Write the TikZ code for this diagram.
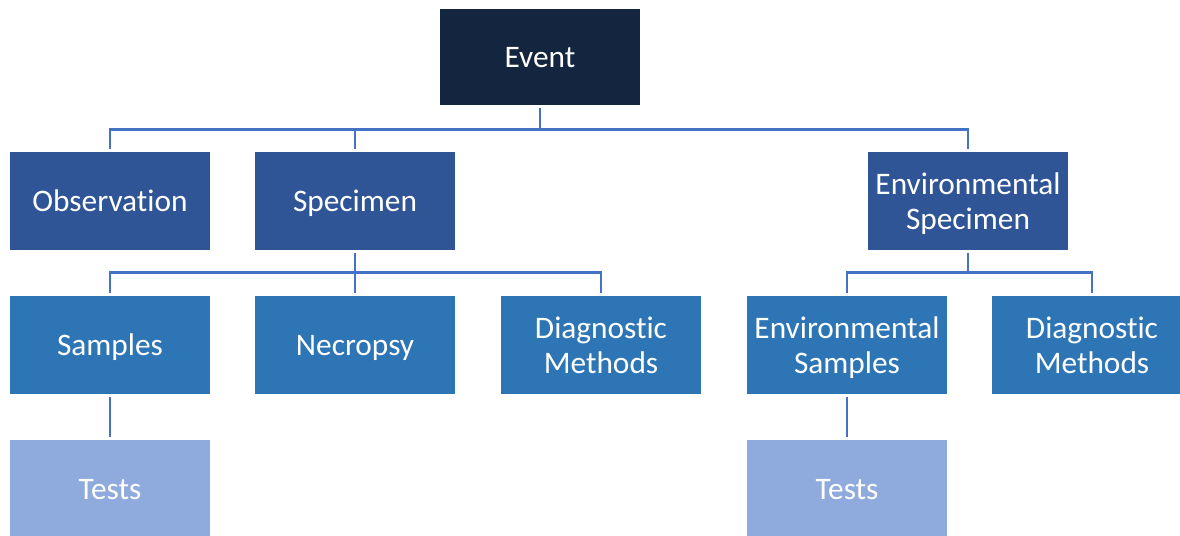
\documentclass[tikz,border=0pt]{standalone}
\usepackage{fontspec}
\setmainfont{Carlito}[Ligatures=NoCommon]
\definecolor{eventnavy}{HTML}{13253F}
\definecolor{levelone}{HTML}{2F5597}
\definecolor{leveltwo}{HTML}{2E75B6}
\definecolor{levelthree}{HTML}{8FAADC}
\definecolor{linkblue}{HTML}{4472C4}
\begin{document}
\begin{tikzpicture}[x=0.75pt,y=-0.75pt,
    box/.style={minimum width=150pt,minimum height=73.5pt,inner sep=0pt,
        text=white,align=center,text depth=0pt,
        font=\fontsize{23.5}{26.5}\selectfont},
    link/.style={draw=linkblue,line width=2.2pt,shorten <=2pt,shorten >=2pt}]
    \useasboundingbox (0,0) rectangle (1180,535);
    \clip (0,0) rectangle (1180,535);
    %% top
    \node[box,fill=eventnavy,minimum height=72pt] (event) at (540,57) {Event};
    %% first level
    \node[box,fill=levelone] (obs) at (110,201) {Observation};
    \node[box,fill=levelone] (spec) at (355,201) {Specimen};
    \node[box,fill=levelone] (envspec) at (968,201) {Environmental\\Specimen};
    %% second level
    \node[box,fill=leveltwo] (samples) at (110,345) {Samples};
    \node[box,fill=leveltwo] (necropsy) at (355,345) {Necropsy};
    \node[box,fill=leveltwo] (diag) at (601,345) {Diagnostic\\Methods};
    \node[box,fill=leveltwo] (envsamples) at (847,345) {Environmental\\Samples};
    \node[box,fill=leveltwo] (envdiag) at (1092,345) {Diagnostic\\Methods};
    %% third level
    \node[box,fill=levelthree] (tests) at (110,489) {Tests};
    \node[box,fill=levelthree] (envtests) at (847,489) {Tests};
    %% connectors
    \foreach \c in {obs,spec,envspec}
        \draw[link] (event.south) -- ++(0,24) -| (\c.north);
    \foreach \c in {samples,necropsy,diag}
        \draw[link] (spec.south) -- ++(0,22) -| (\c.north);
    \foreach \c in {envsamples,envdiag}
        \draw[link] (envspec.south) -- ++(0,22) -| (\c.north);
    \draw[link] (samples) -- (tests);
    \draw[link] (envsamples) -- (envtests);
\end{tikzpicture}
\end{document}
